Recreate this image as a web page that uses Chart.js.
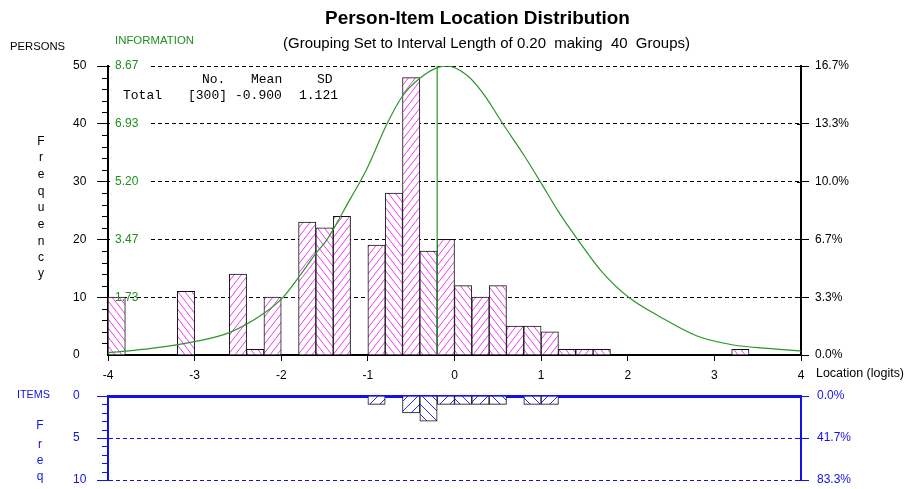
<!DOCTYPE html>
<html><head><meta charset="utf-8">
<script src="https://cdn.jsdelivr.net/npm/chart.js@4.4.1/dist/chart.umd.min.js"></script>
<style>
html,body{margin:0;padding:0;background:#fff;width:907px;height:489px;overflow:hidden}
#c1{position:absolute;left:0;top:0}
#c2{position:absolute;left:0;top:384px}
</style></head><body>
<canvas id="c1" width="907" height="389"></canvas>
<canvas id="c2" width="907" height="105"></canvas>
<script>
// ---------- data ----------
const BIN_CENTERS = [-3.9,-3.7,-3.5,-3.3,-3.1,-2.9,-2.7,-2.5,-2.3,-2.1,-1.9,-1.7,-1.5,-1.3,-1.1,-0.9,-0.7,-0.5,-0.3,-0.1,
                      0.1,0.3,0.5,0.7,0.9,1.1,1.3,1.5,1.7,1.9,2.1,2.3,2.5,2.7,2.9,3.1,3.3,3.5,3.7,3.9];
const PERSON_COUNTS = [10,0,0,0,11,0,0,14,1,10,0,23,22,24,0,19,28,48,18,20,
                       12,10,12,5,5,4,1,1,1,0,0,0,0,0,0,0,1,0,0,0];
const ITEM_COUNTS   = [0,0,0,0,0,0,0,0,0,0,0,0,0,0,0,1,0,2,3,1,
                       1,1,1,0,1,1,0,0,0,0,0,0,0,0,0,0,0,0,0,0];
const INFO_X = [-4.0,-3.5,-3.0,-2.6,-2.2,-1.98,-1.78,-1.6,-1.47,-1.2,-1.09,-1.0,-0.78,-0.6,-0.4,-0.2,-0.09,
                0.14,0.33,0.56,0.8,0.99,1.2,1.42,1.7,2.01,2.37,2.8,3.22,3.61,4.0];
const INFO_Y = [0.07,0.20,0.40,0.67,1.25,1.73,2.40,3.05,3.47,4.70,5.20,5.65,6.93,7.77,8.30,8.62,8.67,
                8.40,7.85,6.93,6.00,5.20,4.30,3.47,2.50,1.73,1.15,0.57,0.30,0.20,0.12];
const INFO_MAX = 8.67;
const INFO_LINE_X = -0.2;
const X_TICKS = [-4,-3,-2,-1,0,1,2,3,4];
const COUNT_TICKS = [0,10,20,30,40,50];
const PCT_LABELS = ['0.0%','3.3%','6.7%','10.0%','13.3%','16.7%'];
const INFO_LABEL_COUNTS = [10,20,30,40,50];
const INFO_LABELS = ['1.73','3.47','5.20','6.93','8.67'];
const ITEM_TICKS = [0,5,10];
const ITEM_PCT_LABELS = ['0.0%','41.7%','83.3%'];
const STATS_HEAD = ['No.','Mean','SD'];
const STATS_ROW = ['Total','[300]','-0.900','1.121'];

// ---------- styles ----------
const FONT = '"Liberation Sans", Arial, sans-serif';
const GREEN = '#2a962a', GREEN_TXT = '#1f8f1f';
const BLUE = '#1212e6';
const PINK = '#f03cf0', HATCH_BLUE = '#2a2aff';

function makeHatch(color, w, h, forward, lw) {
  const c = document.createElement('canvas'); c.width = w; c.height = h;
  const g = c.getContext('2d');
  g.fillStyle = '#fff'; g.fillRect(0, 0, w, h);
  g.strokeStyle = color; g.lineWidth = lw;
  for (const off of [-w, 0, w]) {
    g.beginPath();
    if (forward) { g.moveTo(-w + off, 2*h); g.lineTo(2*w + off, -h); }
    else { g.moveTo(-w + off, -h); g.lineTo(2*w + off, 2*h); }
    g.stroke();
  }
  return g.createPattern(c, 'repeat');
}
const PINK_F = makeHatch(PINK, 7, 9, true, 1), PINK_B = makeHatch(PINK, 7, 9, false, 1);
const BLUE_F = makeHatch(HATCH_BLUE, 10, 10, true, 1), BLUE_B = makeHatch(HATCH_BLUE, 10, 10, false, 1);

function fitText(ctx, text, x, y, w, weight, color, align) {
  ctx.font = weight + ' 12px ' + FONT;
  const m = ctx.measureText(text).width;
  const size = 12 * w / m;
  ctx.font = weight + ' ' + size.toFixed(2) + 'px ' + FONT;
  ctx.fillStyle = color; ctx.textAlign = align; ctx.textBaseline = 'middle';
  ctx.fillText(text, x, y);
}
function txt(ctx, text, x, y, font, color, align) {
  ctx.font = font; ctx.fillStyle = color; ctx.textAlign = align || 'left'; ctx.textBaseline = 'middle';
  ctx.fillText(text, x, y);
}
const noPad = s => { s.paddingTop = 0; s.paddingBottom = 0; };

// ---------- main chart ----------
const mainDecor = {
  id: 'mainDecor',
  beforeDatasetsDraw(chart) {
    const ctx = chart.ctx, y = chart.scales.y, a = chart.chartArea;
    ctx.save(); ctx.fillStyle = '#fff';
    INFO_LABEL_COUNTS.forEach((c, i) => {
      if (i === 0) return;
      const py = y.getPixelForValue(c);
      ctx.fillRect(a.left + 2, py - 3, 40, 6);
    });
    ctx.restore();
  },
  afterDraw(chart) {
    const ctx = chart.ctx, a = chart.chartArea, y = chart.scales.y;
    ctx.save();
    ctx.strokeStyle = '#000'; ctx.lineWidth = 1;
    for (let v = 2; v < 50; v += 2) {
      if (v % 10 === 0) continue;
      const py = Math.round(y.getPixelForValue(v)) + 0.5;
      ctx.beginPath(); ctx.moveTo(a.left - 6, py); ctx.lineTo(a.left, py); ctx.stroke();
    }
    COUNT_TICKS.forEach(v => {
      if (v === 0) return;
      const py = Math.round(y.getPixelForValue(v)) + 0.5;
      ctx.beginPath(); ctx.moveTo(a.right - 4, py); ctx.lineTo(a.right, py); ctx.stroke();
    });
    INFO_LABEL_COUNTS.forEach((c, i) => {
      txt(ctx, INFO_LABELS[i], a.left + 7, y.getPixelForValue(c), '12px ' + FONT, GREEN_TXT, 'left');
    });
    fitText(ctx, 'Person-Item Location Distribution', 477.5, 19, 305, 'bold', '#000', 'center');
    fitText(ctx, '(Grouping Set to Interval Length of 0.20  making  40  Groups)', 486.5, 44, 407, 'normal', '#000', 'center');
    fitText(ctx, 'PERSONS', 10, 47, 55, 'normal', '#000', 'left');
    fitText(ctx, 'INFORMATION', 115, 41, 79, 'normal', GREEN_TXT, 'left');
    fitText(ctx, 'Location (logits)', 816, 374, 88, 'normal', '#000', 'left');
    const letters = 'Frequency'.split('');
    const ly = [142, 158, 175, 192, 208, 225, 242, 258, 274];
    letters.forEach((ch, i) => txt(ctx, ch, 41, ly[i], '12px ' + FONT, '#000', 'center'));
    const mono = '13px "Liberation Mono", "Courier New", monospace';
    const hx = [202, 251, 317], rx = [123, 188, 235, 299];
    STATS_HEAD.forEach((s, i) => txt(ctx, s, hx[i], 80, mono, '#000', 'left'));
    STATS_ROW.forEach((s, i) => txt(ctx, s, rx[i], 96, mono, '#000', 'left'));
    ctx.restore();
  }
};

new Chart(document.getElementById('c1'), {
  type: 'bar',
  data: {
    datasets: [
      { type: 'line', label: 'Information', data: INFO_X.map((x, i) => ({ x, y: INFO_Y[i] })),
        yAxisID: 'yInfo', borderColor: GREEN, borderWidth: 1.2, pointRadius: 0,
        cubicInterpolationMode: 'monotone', fill: false, order: 0 },
      { type: 'line', label: 'Peak', data: [{ x: INFO_LINE_X, y: 0 }, { x: INFO_LINE_X, y: INFO_MAX }],
        yAxisID: 'yInfo', borderColor: GREEN, borderWidth: 1.2, pointRadius: 0, fill: false, order: 0 },
      { type: 'bar', label: 'Persons', data: BIN_CENTERS.map((x, i) => ({ x, y: PERSON_COUNTS[i] || null })),
        yAxisID: 'y', backgroundColor: c => (c.dataIndex % 2 ? PINK_F : PINK_B),
        borderColor: '#111', borderWidth: 1, categoryPercentage: 1, barPercentage: 1, order: 1 }
    ]
  },
  options: {
    responsive: false, animation: false, devicePixelRatio: 1,
    layout: { padding: { top: 66, left: 73, right: 0, bottom: 0 } },
    plugins: { legend: { display: false }, tooltip: { enabled: false }, title: { display: false } },
    scales: {
      x: { type: 'linear', min: -4, max: 4, offset: false,
        afterBuildTicks: s => { s.ticks = X_TICKS.map(v => ({ value: v })); },
        ticks: { color: '#000', font: { family: FONT, size: 12 }, padding: 7, maxRotation: 0, autoSkip: false },
        grid: { offset: false, drawOnChartArea: false, drawTicks: true, tickLength: 6, tickColor: '#000', color: '#000' },
        border: { color: '#000', width: 2 },
        afterFit: s => { s.height = 34; s.paddingLeft = 0; s.paddingRight = 0; } },
      y: { position: 'left', min: 0, max: 50,
        afterBuildTicks: s => { s.ticks = COUNT_TICKS.map(v => ({ value: v })); },
        ticks: { color: '#000', font: { family: FONT, size: 12 }, padding: 11, crossAlign: 'far' },
        grid: { color: c => (c.tick && c.tick.value > 0 ? '#000' : 'rgba(0,0,0,0)'),
                tickColor: c => (c.tick && c.tick.value > 0 ? '#000' : 'rgba(0,0,0,0)'), tickLength: 11, lineWidth: 1 },
        border: { color: '#000', width: 2, dash: [4, 3] },
        afterFit: s => { s.width = 35; noPad(s); } },
      y2: { position: 'right', min: 0, max: 50,
        afterBuildTicks: s => { s.ticks = COUNT_TICKS.map(v => ({ value: v })); },
        ticks: { color: '#000', font: { family: FONT, size: 12 }, padding: 6,
          callback: v => PCT_LABELS[COUNT_TICKS.indexOf(v)] },
        grid: { drawOnChartArea: false, tickLength: 8, tickColor: '#000' },
        border: { color: '#000', width: 2 },
        afterFit: s => { s.width = 106; noPad(s); } },
      yInfo: { display: false, min: 0, max: INFO_MAX }
    }
  },
  plugins: [mainDecor]
});

// ---------- items chart ----------
const itemDecor = {
  id: 'itemDecor',
  afterDraw(chart) {
    const ctx = chart.ctx, a = chart.chartArea, y = chart.scales.y;
    ctx.save();
    ctx.strokeStyle = BLUE; ctx.lineWidth = 1;
    for (let v = 1; v < 10; v++) {
      if (v % 5 === 0) continue;
      const py = Math.round(y.getPixelForValue(v)) + 0.5;
      ctx.beginPath(); ctx.moveTo(a.left - 6, py); ctx.lineTo(a.left, py); ctx.stroke();
    }
    ITEM_TICKS.forEach(v => {
      const py = Math.round(y.getPixelForValue(v)) + 0.5;
      ctx.beginPath(); ctx.moveTo(a.right - 4, py); ctx.lineTo(a.right, py); ctx.stroke();
    });
    fitText(ctx, 'ITEMS', 17, 395 - 384, 33, 'normal', BLUE, 'left');
    const ly = [426, 445, 461, 477];
    'Freq'.split('').forEach((ch, i) => txt(ctx, ch, 40, ly[i] - 384, '12px ' + FONT, BLUE, 'center'));
    ctx.restore();
  }
};

new Chart(document.getElementById('c2'), {
  type: 'bar',
  data: {
    datasets: [
      { type: 'bar', label: 'Items', data: BIN_CENTERS.map((x, i) => ({ x, y: ITEM_COUNTS[i] || null })),
        backgroundColor: c => (c.dataIndex % 2 ? BLUE_F : BLUE_B),
        borderColor: '#111', borderWidth: 1, categoryPercentage: 1, barPercentage: 1 }
    ]
  },
  options: {
    responsive: false, animation: false, devicePixelRatio: 1,
    layout: { padding: { top: 12, left: 73, right: 0, bottom: 9 } },
    plugins: { legend: { display: false }, tooltip: { enabled: false } },
    scales: {
      x: { type: 'linear', position: 'top', min: -4, max: 4, offset: false,
        ticks: { display: false }, grid: { display: false, offset: false, drawTicks: false },
        border: { color: BLUE, width: 3 },
        afterFit: s => { s.height = 0; s.paddingLeft = 0; s.paddingRight = 0; } },
      y: { position: 'left', reverse: true, min: 0, max: 10,
        afterBuildTicks: s => { s.ticks = ITEM_TICKS.map(v => ({ value: v })); },
        ticks: { color: BLUE, font: { family: FONT, size: 12 }, crossAlign: 'far', padding: 11 },
        grid: { color: c => (c.tick && c.tick.value > 0 ? BLUE : 'rgba(0,0,0,0)'), tickColor: BLUE, tickLength: 11, lineWidth: 1 },
        border: { color: BLUE, width: 2, dash: [4, 3] },
        afterFit: s => { s.width = 35; noPad(s); } },
      y2: { position: 'right', reverse: true, min: 0, max: 10,
        afterBuildTicks: s => { s.ticks = ITEM_TICKS.map(v => ({ value: v })); },
        ticks: { color: BLUE, font: { family: FONT, size: 12 }, padding: 8,
          callback: v => ITEM_PCT_LABELS[ITEM_TICKS.indexOf(v)] },
        grid: { drawOnChartArea: false, tickLength: 8, tickColor: BLUE },
        border: { color: BLUE, width: 2 },
        afterFit: s => { s.width = 106; noPad(s); } }
    }
  },
  plugins: [itemDecor]
});
</script>
</body></html>
